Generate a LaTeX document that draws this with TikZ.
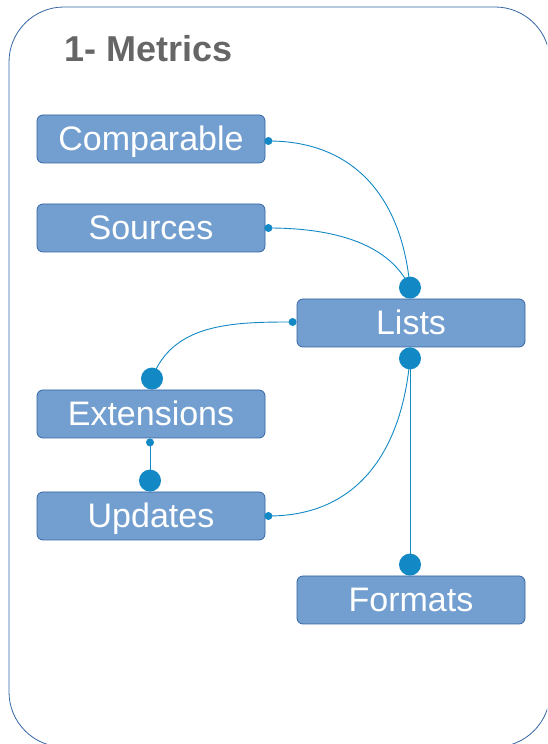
\documentclass[tikz,border=0pt]{standalone}
\usepackage{fontspec}
\setmainfont{Liberation Sans}
\usepackage{tikz}
\usetikzlibrary{shapes,backgrounds,calc}
\definecolor{boxfill}{HTML}{729FCF}
\definecolor{boxline}{HTML}{3465A4}
\definecolor{linkcol}{HTML}{1288C4}
\definecolor{titlecol}{HTML}{666666}

\begin{document}
\begin{tikzpicture}[x=1pt,y=1pt,
    metric/.style={rectangle,rounded corners=6pt,draw=boxline,line width=0.8pt,fill=boxfill,
        text=white,minimum width=228pt,minimum height=48pt,inner sep=0pt,
        text height=24pt,text depth=0pt,font=\fontsize{34}{40}\selectfont},
    link/.style={draw=linkcol,line width=0.9pt},
    bigdot/.style={fill=linkcol},
    smalldot/.style={fill=linkcol}]
            \useasboundingbox (0,0) rectangle (547,744);
            \begin{scope}
            \clip (0,0) rectangle (547,744);
            \draw[boxline,line width=0.8pt,rounded corners=55pt] (9,-3) rectangle (550,737);
            \end{scope}
            \node[anchor=base west,text=titlecol,font=\fontsize{36}{40}\selectfont\bfseries] (title) at (61,682) {1- Metrics};
            \node[metric] (cmp) at (151,605) {Comparable};
            \node[metric] (src) at (151,516) {Sources};
            \node[metric] (lists) at (411,421) {Lists};
            \node[metric] (ext) at (151,330) {Extensions};
            \node[metric] (upd) at (151,228) {Updates};
            \node[metric] (fmt) at (411,144) {Formats};
            % dots
            \coordinate (cmpout) at ($(cmp.east)+(3,-2)$);
            \coordinate (srcout) at ($(src.east)+(3,0)$);
            \coordinate (listsin) at ($(lists.north)+(-1,11)$);
            \coordinate (listsleft) at ($(lists.west)+(-4,1)$);
            \coordinate (listsout) at ($(lists.south)+(-1,-11)$);
            \coordinate (extin) at ($(ext.north)+(1,11)$);
            \coordinate (extout) at ($(ext.south)+(-1,-4)$);
            \coordinate (updin) at ($(upd.north)+(-1,11)$);
            \coordinate (updout) at ($(upd.east)+(3,0)$);
            \coordinate (fmtin) at ($(fmt.north)+(-1,11)$);
            \draw[link] (cmpout) to[out=0,in=95,looseness=1.1] (listsin);
            \draw[link] (srcout) to[out=0,in=115,looseness=0.9] (listsin);
            \draw[link] (listsleft) to[out=180,in=70,looseness=1] (extin);
            \draw[link] (extout) -- (updin);
            \draw[link] (updout) to[out=0,in=-95,looseness=1.1] (listsout);
            \draw[link] (listsout) -- (fmtin);
            \foreach \d in {listsin,listsout,extin,updin,fmtin}
                \fill[bigdot] (\d) circle (11pt);
            \foreach \d in {cmpout,srcout,listsleft,extout,updout}
                \fill[smalldot] (\d) circle (4pt);
        \end{tikzpicture}
\end{document}
